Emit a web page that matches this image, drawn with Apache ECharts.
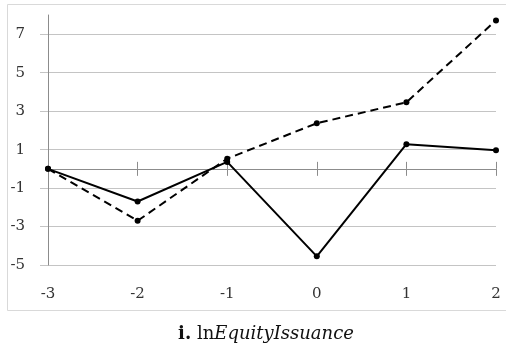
<!DOCTYPE html>
<html><head><meta charset="utf-8">
<script src="https://cdn.jsdelivr.net/npm/echarts@6/dist/echarts.min.js"></script>
<style>html,body{margin:0;padding:0;background:#fff}#c{width:506px;height:349px}</style>
</head><body><div id="c"></div>
<script>
var categories = ['-3', '-2', '-1', '0', '1', '2'];
var solidSeries = [0, -1.7, 0.36, -4.55, 1.28, 0.97];
var dashedSeries = [0, -2.7, 0.53, 2.37, 3.46, 7.72];
var yMin = -5, yMax = 8, yTickMax = 7, yInterval = 2;

var W = 506, H = 349;
var g0 = {left: 48, right: 10, top: 15, bottom: 84};
var plotH = H - g0.top - g0.bottom;
var top1 = g0.top + (yMax - yTickMax) / (yMax - yMin) * plotH;
var g1 = {left: g0.left, right: g0.right, top: top1, bottom: g0.bottom};
var serif = 'DejaVu Serif';
var axisGray = '#8c8c8c';
var gridGray = '#c4c4c4';

var chart = echarts.init(document.getElementById('c'), null, {renderer: 'canvas'});
chart.setOption({
  animation: false,
  backgroundColor: '#fff',
  graphic: [{
    type: 'rect', left: 5, top: 2, silent: true,
    shape: {width: 510, height: 306},
    style: {fill: 'none', stroke: '#d9d9d9', lineWidth: 1}
  }],
  title: {
    text: '{b|i.} {n|ln}{i|EquityIssuance}',
    left: 261, top: 320,
    textAlign: 'center',
    textStyle: {
      fontWeight: 'normal', fontFamily: serif, fontSize: 18,
      rich: {
        b: {fontFamily: serif, fontWeight: 'bold', fontSize: 18, color: '#111'},
        n: {fontFamily: serif, fontWeight: 'normal', fontSize: 18, color: '#111'},
        i: {fontFamily: serif, fontWeight: 'normal', fontStyle: 'italic', fontSize: 18, color: '#111'}
      }
    }
  },
  grid: [
    Object.assign({containLabel: false}, g0),
    Object.assign({containLabel: false}, g1)
  ],
  xAxis: [
    {type: 'category', gridIndex: 0, data: categories, boundaryGap: false, position: 'bottom',
     axisLine: {show: false, onZero: false}, axisTick: {show: false},
     axisLabel: {margin: 22, fontFamily: serif, fontSize: 15, color: '#333'}},
    {type: 'category', gridIndex: 0, data: categories, boundaryGap: false, position: 'top',
     axisLine: {show: false, onZero: true}, axisTick: {show: true, inside: false, length: 7, lineStyle: {color: axisGray}},
     axisLabel: {show: false}},
    {type: 'category', gridIndex: 1, data: categories, boundaryGap: false, position: 'bottom',
     axisLine: {show: true, onZero: true, lineStyle: {color: axisGray, width: 1}},
     axisTick: {show: true, inside: false, length: 7, lineStyle: {color: axisGray}},
     axisLabel: {show: false}}
  ],
  yAxis: [
    {type: 'value', gridIndex: 0, min: yMin, max: yMax, interval: 1,
     axisLine: {show: true, lineStyle: {color: axisGray, width: 1}},
     axisTick: {show: false}, axisLabel: {show: false}, splitLine: {show: false}},
    {type: 'value', gridIndex: 1, min: yMin, max: yTickMax, interval: yInterval,
     axisLine: {show: false},
     axisTick: {show: true, length: 8, lineStyle: {color: gridGray}},
     axisLabel: {margin: 23, fontFamily: serif, fontSize: 15, color: '#333'},
     splitLine: {show: true, lineStyle: {color: gridGray, width: 1}}}
  ],
  series: [
    {type: 'line', xAxisIndex: 0, yAxisIndex: 0, data: dashedSeries, z: 5,
     symbol: 'circle', symbolSize: 6, showSymbol: true,
     lineStyle: {color: '#000', width: 2, type: [8, 5]},
     itemStyle: {color: '#000'}},
    {type: 'line', xAxisIndex: 0, yAxisIndex: 0, data: solidSeries, z: 6,
     symbol: 'circle', symbolSize: 6, showSymbol: true,
     lineStyle: {color: '#000', width: 2},
     itemStyle: {color: '#000'}}
  ]
});
</script></body></html>
